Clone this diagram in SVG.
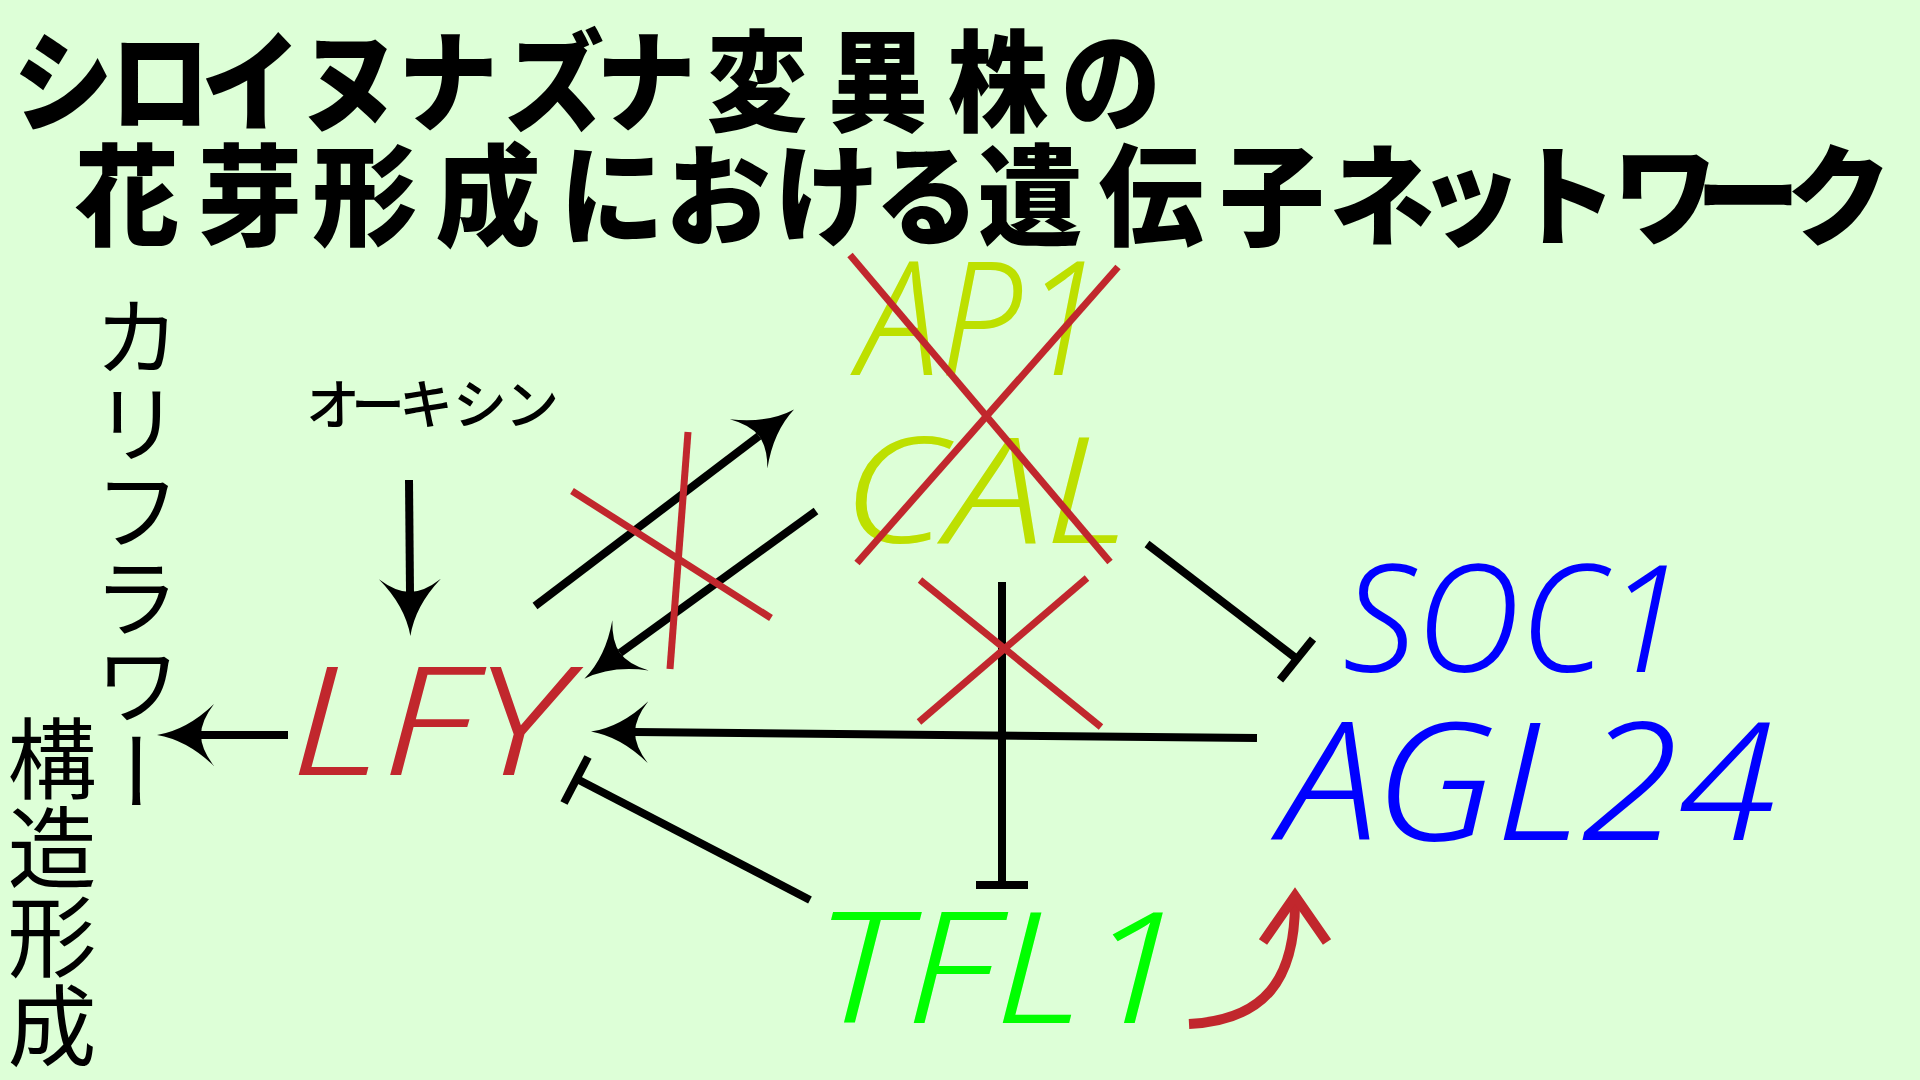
<svg xmlns="http://www.w3.org/2000/svg" width="1920" height="1080" viewBox="0 0 1920 1080">
<defs>
<style>
.title{font-family:"Noto Sans CJK JP","Noto Sans CJK SC",sans-serif;font-weight:900;fill:#000;text-anchor:middle}
.vert{font-family:"Noto Sans CJK JP","Noto Sans CJK SC",sans-serif;font-weight:400;fill:#000;writing-mode:vertical-rl}
.hand{font-family:"Noto Sans","DejaVu Sans",sans-serif;font-style:italic;font-weight:350}
.ln{stroke:#000;stroke-width:8;fill:none}
.red{stroke:#c1272d;stroke-width:7;fill:none}
.arr{marker-end:url(#ah)}
</style>
<marker id="ah" markerUnits="userSpaceOnUse" orient="auto" viewBox="-15 -35 65 70" markerWidth="65" markerHeight="70" refX="0" refY="0">
<path d="M44,0 Q14,-5 -13,-31 Q0,-14 0,0 Q0,14 -13,31 Q14,5 44,0 Z" fill="#000"/>
</marker>
</defs>
<rect width="1920" height="1080" fill="#ddffd7"/>

<g id="title">
<text class="title" font-size="100" transform="translate(0,123) scale(1,1.1)" x="63 160 251 350 448 554 646 757 878 998 1111" y="0">シロイヌナズナ変異株の</text>
<text class="title" font-size="105" transform="translate(0,237) scale(1,1.05)" x="127 250 365 488 612 718 827 927 1030 1151 1272 1382 1470 1565 1665 1748 1839" y="0">花芽形成における遺伝子ネットワーク</text>
</g>

<g id="cauliflower">
<text class="vert" font-size="87" x="137" y="293">カリフラワー</text>
</g>
<g id="structure">
<text class="vert" font-size="89" x="52" y="714">構造形成</text>
</g>

<g id="auxin">
<text font-family="Noto Sans CJK JP, sans-serif" font-weight="500" font-size="54" fill="#000" text-anchor="middle" x="333 378 426 480 532" y="425">オーキシン</text>
</g>

<g id="AP1">
<text class="hand" fill="#bde000" font-size="158" x="858" y="375" textLength="245" lengthAdjust="spacingAndGlyphs">AP1</text>
</g>
<g id="CAL">
<text class="hand" fill="#bde000" font-size="148" x="842" y="543" textLength="288" lengthAdjust="spacingAndGlyphs">CAL</text>
</g>
<g id="LFY">
<text class="hand" fill="#c1272d" font-size="151" x="290" y="775" textLength="276" lengthAdjust="spacingAndGlyphs">LFY</text>
</g>
<g id="SOC1">
<text class="hand" fill="#0000ff" font-size="150" x="1343" y="672" textLength="342" lengthAdjust="spacingAndGlyphs">SOC1</text>
</g>
<g id="AGL24">
<text class="hand" fill="#0000ff" font-size="164" x="1280" y="840" textLength="496" lengthAdjust="spacingAndGlyphs">AGL24</text>
</g>
<g id="TFL1">
<text class="hand" fill="#00ff00" font-size="154" x="814" y="1023" textLength="372" lengthAdjust="spacingAndGlyphs">TFL1</text>
</g>

<g id="connectors">
<line class="ln arr" x1="409" y1="480" x2="410" y2="592"/>
<line class="ln arr" x1="535" y1="606" x2="759" y2="436"/>
<line class="ln arr" x1="816" y1="511" x2="620" y2="653"/>
<line class="ln arr" x1="1257" y1="738" x2="635" y2="732" stroke-width="10"/>
<line class="ln arr" x1="288" y1="735" x2="201" y2="735"/>
<line class="ln" x1="1147" y1="544" x2="1297" y2="659"/>
<line class="ln" x1="1313" y1="639" x2="1280" y2="680"/>
<line class="ln" x1="810" y1="900" x2="577" y2="779"/>
<line class="ln" x1="588" y1="757" x2="564" y2="803"/>
<line class="ln" x1="1002" y1="582" x2="1002" y2="882"/>
<line class="ln" x1="976" y1="885" x2="1028" y2="885"/>
<line class="red" x1="850" y1="255" x2="1110" y2="562"/>
<line class="red" x1="1118" y1="267" x2="857" y2="563"/>
<line class="red" x1="688" y1="432" x2="670" y2="669"/>
<line class="red" x1="572" y1="491" x2="771" y2="618"/>
<line class="red" x1="920" y1="580" x2="1101" y2="727"/>
<line class="red" x1="1087" y1="578" x2="919" y2="722"/>
<path d="M1189,1024 C1265,1020 1295,980 1295,902" stroke="#c1272d" stroke-width="10" fill="none"/>
<path d="M1263,942 L1295,896 L1327,942" stroke="#c1272d" stroke-width="10" fill="none"/>
</g>
</svg>
